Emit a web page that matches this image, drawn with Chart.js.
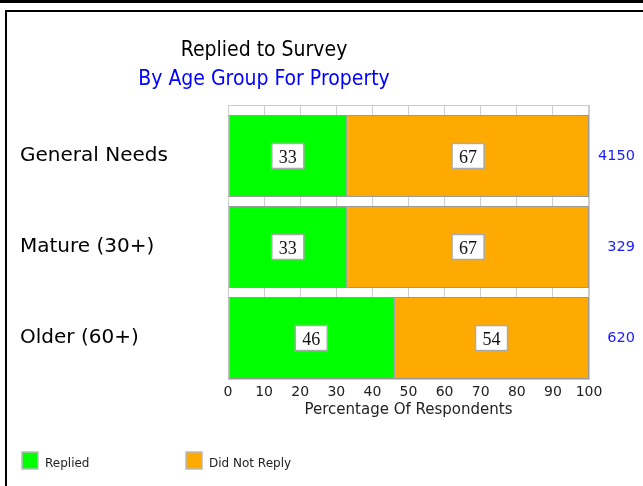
<!DOCTYPE html>
<html>
<head>
<meta charset="utf-8">
<script src="https://cdn.jsdelivr.net/npm/chart.js@4"></script>
<style>
  html, body { margin: 0; padding: 0; background: #fff; }
  canvas { display: block; }
</style>
</head>
<body>
<canvas id="chart" width="643" height="486"></canvas>
<script>
// data
const groups = ['General Needs', 'Mature (30+)', 'Older (60+)'];
const respondents = ['4150', '329', '620'];
const replied = [33, 33, 46];
const notReplied = [67, 67, 54];
const seriesNames = ['Replied', 'Did Not Reply'];
const seriesColors = ['#00ff00', '#ffaa00'];
const xTicks = [0, 10, 20, 30, 40, 50, 60, 70, 80, 90, 100];

const toPoints = (vals) => vals.map((v, i) => ({x: v, y: i}));

// one tick per group on the index axis
const groupTicks = (scale) => {
  scale.ticks = groups.map((_, i) => ({value: i}));
};

// frame, titles, top border of plot, value boxes, legend
const decor = {
  id: 'decor',
  beforeDatasetsDraw(chart) {
    const {ctx, chartArea: a} = chart;
    ctx.save();
    ctx.strokeStyle = '#cccccc';
    ctx.lineWidth = 1;
    ctx.strokeRect(a.left + 0.5, a.top + 0.5, a.right - a.left - 1, a.bottom - a.top);
    ctx.restore();
  },
  afterDraw(chart) {
    const {ctx} = chart;
    ctx.save();
    // page frame
    ctx.fillStyle = '#000';
    ctx.fillRect(0, 0, 643, 3);
    ctx.fillRect(5, 10, 638, 2);
    ctx.fillRect(5, 10, 2, 476);

    // titles
    ctx.textAlign = 'center';
    ctx.textBaseline = 'alphabetic';
    ctx.font = '21px "DejaVu Sans Condensed", "DejaVu Sans", sans-serif';
    ctx.fillStyle = '#000';
    ctx.fillText('Replied to Survey', 264, 56);
    ctx.fillStyle = '#0000ff';
    ctx.fillText('By Age Group For Property', 264, 85);

    // value boxes
    ctx.font = '18px "Liberation Serif", serif';
    ctx.textBaseline = 'middle';
    chart.data.datasets.forEach((ds, di) => {
      chart.getDatasetMeta(di).data.forEach((el, i) => {
        const c = el.getCenterPoint();
        const txt = String(ds.data[i].x);
        const w = ctx.measureText(txt).width + 14;
        const h = 25;
        ctx.fillStyle = '#fff';
        ctx.fillRect(c.x - w / 2, c.y - h / 2, w, h);
        ctx.strokeStyle = '#aaaaaa';
        ctx.lineWidth = 1.5;
        ctx.strokeRect(c.x - w / 2, c.y - h / 2, w, h);
        ctx.fillStyle = '#111';
        ctx.fillText(txt, c.x, c.y + 2);
      });
    });

    // legend
    const legendX = [22, 186];
    ctx.font = '12px "DejaVu Sans", sans-serif';
    ctx.textAlign = 'left';
    seriesNames.forEach((name, i) => {
      const x = legendX[i];
      ctx.fillStyle = seriesColors[i];
      ctx.fillRect(x, 452, 16, 17);
      ctx.strokeStyle = '#bbbbbb';
      ctx.lineWidth = 1.5;
      ctx.strokeRect(x, 452, 16, 17);
      ctx.fillStyle = '#222';
      ctx.fillText(name, x + 23, 464);
    });
    ctx.restore();
  }
};

const ctx = document.getElementById('chart');
new Chart(ctx, {
  type: 'bar',
  data: {
    datasets: [{
      label: seriesNames[0],
      data: toPoints(replied),
      backgroundColor: seriesColors[0],
    }, {
      label: seriesNames[1],
      data: toPoints(notReplied),
      backgroundColor: seriesColors[1],
    }]
  },
  options: {
    indexAxis: 'y',
    responsive: false,
    animation: false,
    layout: {padding: {top: 105, left: 20, right: 8, bottom: 67}},
    datasets: {
      bar: {
        borderColor: '#999999',
        borderWidth: 1,
        borderSkipped: false,
        barPercentage: 0.9,
        categoryPercentage: 1,
      }
    },
    scales: {
      x: {
        type: 'linear',
        stacked: true,
        min: 0,
        max: 100,
        afterBuildTicks: (scale) => { scale.ticks = xTicks.map(v => ({value: v})); },
        afterFit: (scale) => { scale.height = 40; },
        grid: {color: '#cccccc', drawTicks: false},
        border: {color: '#999999'},
        ticks: {padding: 5, color: '#222', font: {family: 'DejaVu Sans', size: 14}, maxRotation: 0},
        title: {
          display: true,
          text: 'Percentage Of Respondents',
          color: '#222',
          font: {family: 'DejaVu Sans', size: 15},
          padding: 0,
        },
      },
      y: {
        type: 'linear',
        stacked: true,
        reverse: true,
        offset: false,
        min: -0.56,
        max: 2.45,
        afterBuildTicks: groupTicks,
        afterFit: (scale) => { scale.width = 208; },
        grid: {display: false},
        border: {color: '#cccccc'},
        ticks: {
          crossAlign: 'far',
          color: '#000',
          font: {family: 'DejaVu Sans', size: 20},
          callback: (v) => groups[v],
        },
      },
      yRight: {
        type: 'linear',
        position: 'right',
        reverse: true,
        offset: false,
        min: -0.56,
        max: 2.45,
        afterBuildTicks: groupTicks,
        afterFit: (scale) => { scale.width = 46; },
        grid: {display: false},
        border: {color: '#cccccc'},
        ticks: {
          crossAlign: 'far',
          color: '#1a1aff',
          font: {family: 'DejaVu Sans', size: 14.5},
          callback: (v) => respondents[v],
        },
      },
    },
    plugins: {
      legend: {display: false},
      tooltip: {enabled: false},
    },
  },
  plugins: [decor],
});
</script>
</body>
</html>
